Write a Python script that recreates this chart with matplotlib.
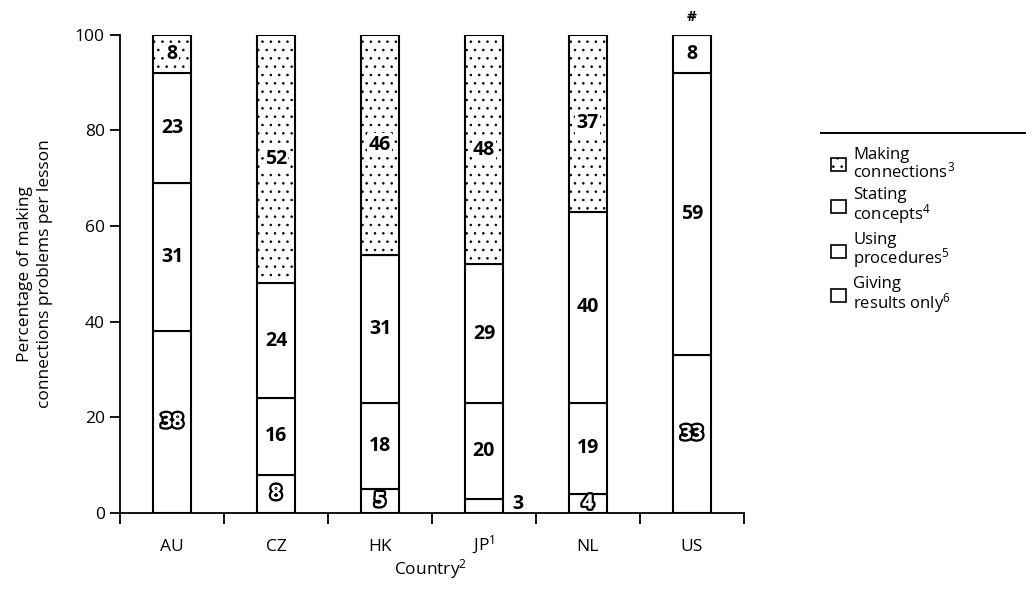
import numpy as np
import matplotlib
matplotlib.use('Agg')
from matplotlib import pyplot as plt
from matplotlib import patheffects
from matplotlib.patches import Patch
from matplotlib.lines import Line2D

plt.rcParams['font.family'] = ['Open Sans', 'DejaVu Sans']
plt.rcParams['mathtext.default'] = 'regular'
plt.rcParams['hatch.linewidth'] = 0.6

countries = ['AU', 'CZ', 'HK', 'JP$^1$', 'NL', 'US']
giving = [38, 8, 5, 3, 4, 33]
using = [31, 16, 18, 20, 19, 59]
stating = [23, 24, 31, 29, 40, 8]
making = [8, 52, 46, 48, 37, 0]
series_names = ['Making\nconnections$^3$', 'Stating\nconcepts$^4$',
                'Using\nprocedures$^5$', 'Giving\nresults only$^6$']

fig = plt.figure(figsize=(10.26, 5.89), dpi=100)
ax = fig.add_axes([0.117, 0.129, 0.608, 0.812])

x = np.arange(len(countries))
width = 0.37
bottom = np.zeros(len(countries))
stack = [giving, using, stating, making]
hatches = [None, None, None, '..']
outline = patheffects.withStroke(linewidth=3.5, foreground='black')

for k, vals in enumerate(stack):
    vals = np.array(vals, dtype=float)
    ax.bar(x, vals, width, bottom=bottom, color='white', edgecolor='black',
           linewidth=1.5, hatch=hatches[k])
    for i, v in enumerate(vals):
        if v == 0:
            continue
        cy = bottom[i] + v / 2
        if k == 0 and v < 4:
            ax.text(x[i] + 0.27, 1.9, str(int(v)), ha='left', va='center',
                    fontsize=14, fontweight='bold')
        elif k == 0:
            ax.text(x[i], cy, str(int(v)), ha='center', va='center',
                    fontsize=14, fontweight='bold', color='white',
                    path_effects=[outline, patheffects.Normal()])
        else:
            ax.text(x[i], cy, str(int(v)), ha='center', va='center',
                    fontsize=14, fontweight='bold',
                    bbox=dict(facecolor='white', edgecolor='none', pad=1.0)
                    if k == 3 else None)
    bottom += vals

ax.text(x[-1], 103.8, '#', ha='center', va='center', fontsize=11,
        fontweight='bold', clip_on=False)

ax.set_xlim(-0.5, 5.5)
ax.set_ylim(0, 100)
ax.set_yticks([0, 20, 40, 60, 80, 100])
ax.set_xticks(x)
ax.set_xticklabels(countries, fontsize=12.5, va='baseline')
ax.set_xticks(np.arange(-0.5, 6, 1), minor=True)
ax.tick_params(axis='x', which='major', length=0, pad=27)
ax.tick_params(axis='x', which='minor', length=8, width=1.3, direction='out')
ax.tick_params(axis='y', length=7, width=1.3, labelsize=12.5, pad=4)
for s in ['top', 'right']:
    ax.spines[s].set_visible(False)
for s in ['left', 'bottom']:
    ax.spines[s].set_linewidth(1.3)

fig.text(0.42, 0.025, 'Country$^2$', fontsize=12.5, ha='center', va='baseline')
ax.set_ylabel('Percentage of making\nconnections problems per lesson',
              fontsize=12.5, labelpad=16, linespacing=1.3)

handles = [Patch(facecolor='white', edgecolor='black', hatch='..', linewidth=1.2),
           Patch(facecolor='white', edgecolor='black', linewidth=1.2),
           Patch(facecolor='white', edgecolor='black', linewidth=1.2),
           Patch(facecolor='white', edgecolor='black', linewidth=1.2)]
leg = fig.legend(handles, series_names, loc='upper left',
                 bbox_to_anchor=(0.803, 0.762), frameon=False, fontsize=12,
                 handlelength=0.9, handleheight=0.8, handletextpad=0.45,
                 labelspacing=0.35, borderaxespad=0)
for t in leg.get_texts():
    t.set_linespacing(0.92)
fig.add_artist(Line2D([0.8, 1.0], [0.774, 0.774], color='black', linewidth=1.4))

fig.savefig('out.png', dpi=100)
